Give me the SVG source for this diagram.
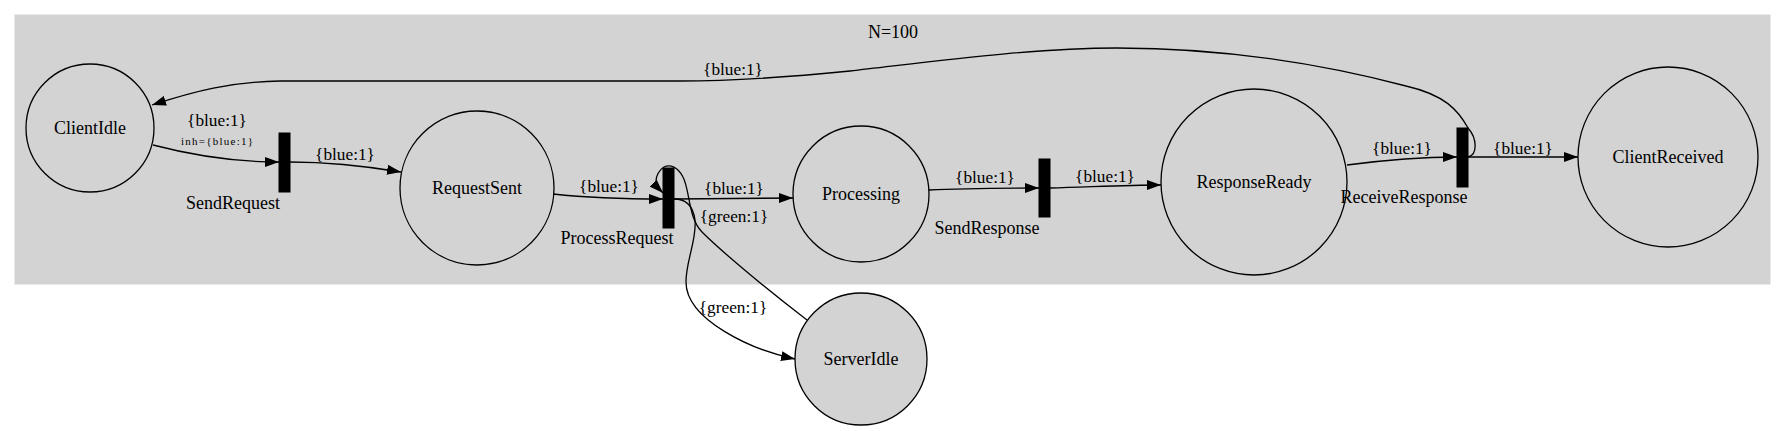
<svg xmlns="http://www.w3.org/2000/svg" width="1786" height="431" viewBox="0 0 1786 431">
<style>
  text { font-family: "Liberation Serif", "Times New Roman", serif; fill: #000; }
  .nl { font-size: 18px; text-anchor: middle; }
  .el { font-size: 17.3px; text-anchor: middle; }
  .sm { font-size: 11px; text-anchor: middle; }
  .place { fill: #d3d3d3; stroke: #000; stroke-width: 1.3; }
  .trans { fill: #000; stroke: #000; }
  .edge { fill: none; stroke: #000; stroke-width: 1.3; marker-end: url(#arr); }
</style>
<defs>
  <marker id="arr" markerUnits="userSpaceOnUse" markerWidth="14" markerHeight="10" refX="14" refY="5" orient="auto" viewBox="0 0 14 10">
    <path d="M0,0 L14,5 L0,10 z" fill="#000"/>
  </marker>
</defs>
<rect x="0" y="0" width="1786" height="431" fill="#fff"/>
<g id="cluster_N100">
  <rect x="15" y="15" width="1755" height="269" fill="#d3d3d3" stroke="#d3d3d3"/>
  <text class="nl" x="893" y="38">N=100</text>
</g>
<g id="ClientIdle">
  <circle class="place" cx="90" cy="128" r="64"/>
  <text class="nl" x="90" y="134">ClientIdle</text>
</g>
<g id="SendRequest">
  <rect class="trans" x="279" y="133" width="11" height="59"/>
  <text class="nl" x="233" y="209">SendRequest</text>
</g>
<g id="RequestSent">
  <circle class="place" cx="477" cy="188" r="77"/>
  <text class="nl" x="477" y="194">RequestSent</text>
</g>
<g id="ProcessRequest">
  <rect class="trans" x="663" y="168" width="11" height="60"/>
  <text class="nl" x="617" y="244">ProcessRequest</text>
</g>
<g id="Processing">
  <circle class="place" cx="861" cy="194" r="68"/>
  <text class="nl" x="861" y="200">Processing</text>
</g>
<g id="SendResponse">
  <rect class="trans" x="1039" y="159" width="11" height="58"/>
  <text class="nl" x="987" y="234">SendResponse</text>
</g>
<g id="ResponseReady">
  <circle class="place" cx="1254" cy="182" r="93"/>
  <text class="nl" x="1254" y="188">ResponseReady</text>
</g>
<g id="ReceiveResponse">
  <rect class="trans" x="1457" y="128" width="11" height="59"/>
  <text class="nl" x="1404" y="203">ReceiveResponse</text>
</g>
<g id="ClientReceived">
  <circle class="place" cx="1668" cy="157" r="90"/>
  <text class="nl" x="1668" y="163">ClientReceived</text>
</g>
<g id="ServerIdle">
  <circle class="place" cx="861" cy="359" r="66"/>
  <text class="nl" x="861" y="365">ServerIdle</text>
</g>
<g id="connectors">
  <path class="edge" d="M153,145 C195,156 235,162 279,162"/>
  <text class="el" x="217" y="126">{blue:1}</text>
  <text class="sm" x="217" y="145" textLength="72" lengthAdjust="spacing">inh={blue:1}</text>
  <path class="edge" d="M290,162 C330,162 365,166 401,172"/>
  <text class="el" x="345" y="160">{blue:1}</text>
  <path class="edge" d="M553,194 C590,198 625,199 663,199"/>
  <text class="el" x="609" y="192">{blue:1}</text>
  <path class="edge" d="M674,199 C710,199 750,198 793,198"/>
  <text class="el" x="734" y="194">{blue:1}</text>
  <path class="edge" d="M929,190 C965,188 1000,188 1039,188"/>
  <text class="el" x="985" y="183">{blue:1}</text>
  <path class="edge" d="M1050,188 C1090,187 1125,185 1161,185"/>
  <text class="el" x="1105" y="182">{blue:1}</text>
  <path class="edge" d="M1347,165 C1385,160 1420,157 1457,157"/>
  <text class="el" x="1402" y="154">{blue:1}</text>
  <path class="edge" d="M1468,157 L1578,157"/>
  <text class="el" x="1523" y="154">{blue:1}</text>
  <path class="edge" d="M1468,157 C1478,155 1477,138 1468,128 C1458,110 1445,95 1406,86 C1330,66 1230,48 1117,48 C1030,48 930,62 850,71 C790,77 740,81 680,81 L280,81 C230,82 195,91 152,105"/>
  <text class="el" x="733" y="75">{blue:1}</text>
  <path class="edge" d="M807,320 C765,288 720,250 702,232 C688,218 690,190 683,177 C678,167 670,164 664,167 C659,170 656,176 656,181 C656,185 659,189 663,193"/>
  <text class="el" x="734" y="222">{green:1}</text>
  <path class="edge" d="M674,199 C685,199 693,205 695,220 C697,240 686,260 686,282 C686,320 752,350 795,359"/>
  <text class="el" x="733" y="313">{green:1}</text>
</g>
</svg>
